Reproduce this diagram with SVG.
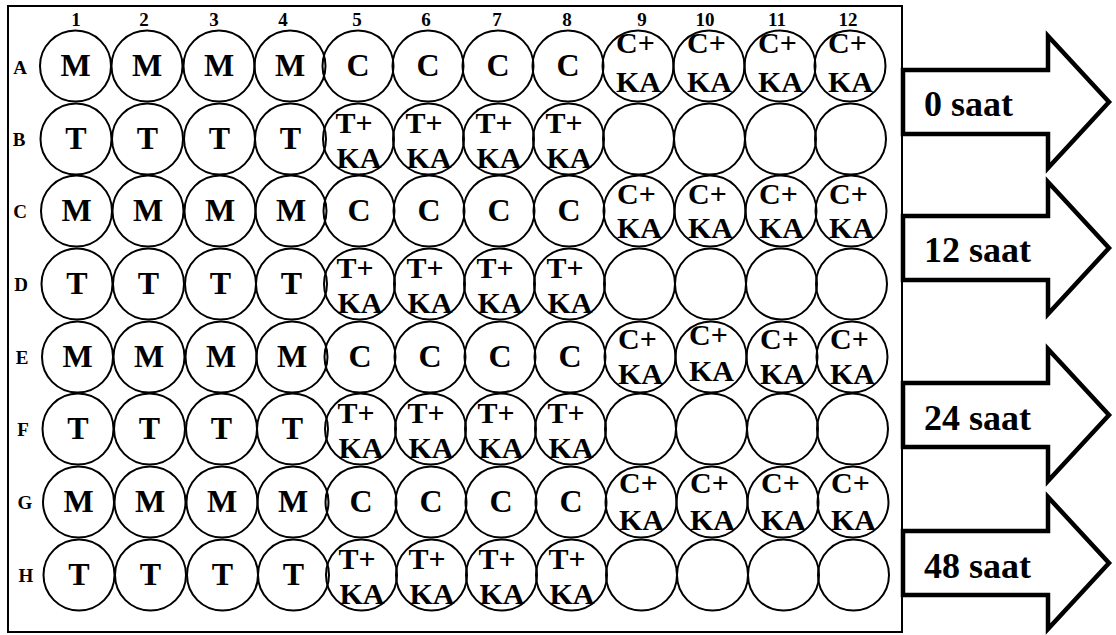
<svg xmlns="http://www.w3.org/2000/svg" width="1116" height="635" viewBox="0 0 1116 635" font-family="Liberation Serif, Times New Roman, DejaVu Serif, serif" font-weight="bold">
<style>
text{font-family:'Liberation Serif','Times New Roman','DejaVu Serif',serif;font-weight:700;fill:#000}
.w circle{fill:none;stroke:#000;stroke-width:2}
.b{font-size:32px;text-anchor:middle}
.s{font-size:30px}
.n{font-size:19px;text-anchor:middle}
.t{font-size:36px}
.arr{fill:#fff;stroke:#000;stroke-width:4.5;stroke-linejoin:miter;stroke-miterlimit:10}
</style>
<rect id="plate" x="8" y="6" width="894" height="626" fill="#fff" stroke="#000" stroke-width="2"/>
<g id="col-labels">
<text class="n" x="76" y="26">1</text><text class="n" x="144" y="26">2</text><text class="n" x="214" y="26">3</text><text class="n" x="283" y="26">4</text>
<text class="n" x="357" y="26">5</text><text class="n" x="426" y="26">6</text><text class="n" x="497" y="26">7</text><text class="n" x="567" y="26">8</text>
<text class="n" x="642" y="26">9</text><text class="n" x="705" y="26">10</text><text class="n" x="777" y="26">11</text><text class="n" x="848" y="26">12</text>
</g>
<g id="row-labels">
<text class="n" x="20" y="74">A</text><text class="n" x="19" y="146">B</text><text class="n" x="20" y="218">C</text><text class="n" x="21" y="291">D</text>
<text class="n" x="22" y="364">E</text><text class="n" x="23" y="436">F</text><text class="n" x="25" y="509">G</text><text class="n" x="26" y="582">H</text>
</g>
<g id="wells" class="w">
<g id="A1" transform="translate(75.5,66)"><circle r="35.5"/><text class="b" y="10">M</text></g>
<g id="A2" transform="translate(147,66)"><circle r="35.5"/><text class="b" y="10">M</text></g>
<g id="A3" transform="translate(219,66)"><circle r="35.5"/><text class="b" y="10">M</text></g>
<g id="A4" transform="translate(290,66)"><circle r="35.5"/><text class="b" y="10">M</text></g>
<g id="A5" transform="translate(358,66)"><circle r="35.5"/><text class="b" y="10">C</text></g>
<g id="A6" transform="translate(428,66)"><circle r="35.5"/><text class="b" y="10">C</text></g>
<g id="A7" transform="translate(498,66)"><circle r="35.5"/><text class="b" y="10">C</text></g>
<g id="A8" transform="translate(568,66)"><circle r="35.5"/><text class="b" y="10">C</text></g>
<g id="A9" transform="translate(638,66)"><circle r="35.5"/><text class="s" x="-22" y="-13">C+</text><text class="s" x="-22" y="26">KA</text></g>
<g id="A10" transform="translate(709,66)"><circle r="35.5"/><text class="s" x="-22" y="-13">C+</text><text class="s" x="-22" y="26">KA</text></g>
<g id="A11" transform="translate(780,66)"><circle r="35.5"/><text class="s" x="-22" y="-13">C+</text><text class="s" x="-22" y="26">KA</text></g>
<g id="A12" transform="translate(850,66)"><circle r="35.5"/><text class="s" x="-22" y="-13">C+</text><text class="s" x="-22" y="26">KA</text></g>

<g id="B1" transform="translate(76,139)"><circle r="35.5"/><text class="b" y="10">T</text></g>
<g id="B2" transform="translate(147.5,139)"><circle r="35.5"/><text class="b" y="10">T</text></g>
<g id="B3" transform="translate(219.5,139)"><circle r="35.5"/><text class="b" y="10">T</text></g>
<g id="B4" transform="translate(290.5,139)"><circle r="35.5"/><text class="b" y="10">T</text></g>
<g id="B5" transform="translate(358.5,139)"><circle r="35.5"/><text class="s" x="-23" y="-6">T+</text><text class="s" x="-22" y="29">KA</text></g>
<g id="B6" transform="translate(428.5,139)"><circle r="35.5"/><text class="s" x="-23" y="-6">T+</text><text class="s" x="-22" y="29">KA</text></g>
<g id="B7" transform="translate(498.5,139)"><circle r="35.5"/><text class="s" x="-23" y="-6">T+</text><text class="s" x="-22" y="29">KA</text></g>
<g id="B8" transform="translate(568.5,139)"><circle r="35.5"/><text class="s" x="-23" y="-6">T+</text><text class="s" x="-22" y="29">KA</text></g>
<g id="B9" transform="translate(638.5,139)"><circle r="35.5"/></g>
<g id="B10" transform="translate(709.5,139)"><circle r="35.5"/></g>
<g id="B11" transform="translate(780.5,139)"><circle r="35.5"/></g>
<g id="B12" transform="translate(850.5,139)"><circle r="35.5"/></g>

<g id="C1" transform="translate(76.5,211)"><circle r="35.5"/><text class="b" y="10">M</text></g>
<g id="C2" transform="translate(148,211)"><circle r="35.5"/><text class="b" y="10">M</text></g>
<g id="C3" transform="translate(220,211)"><circle r="35.5"/><text class="b" y="10">M</text></g>
<g id="C4" transform="translate(291,211)"><circle r="35.5"/><text class="b" y="10">M</text></g>
<g id="C5" transform="translate(359,211)"><circle r="35.5"/><text class="b" y="10">C</text></g>
<g id="C6" transform="translate(429,211)"><circle r="35.5"/><text class="b" y="10">C</text></g>
<g id="C7" transform="translate(499,211)"><circle r="35.5"/><text class="b" y="10">C</text></g>
<g id="C8" transform="translate(569,211)"><circle r="35.5"/><text class="b" y="10">C</text></g>
<g id="C9" transform="translate(639,211)"><circle r="35.5"/><text class="s" x="-22" y="-7">C+</text><text class="s" x="-22" y="27">KA</text></g>
<g id="C10" transform="translate(710,211)"><circle r="35.5"/><text class="s" x="-22" y="-7">C+</text><text class="s" x="-22" y="27">KA</text></g>
<g id="C11" transform="translate(781,211)"><circle r="35.5"/><text class="s" x="-22" y="-7">C+</text><text class="s" x="-22" y="27">KA</text></g>
<g id="C12" transform="translate(851,211)"><circle r="35.5"/><text class="s" x="-22" y="-7">C+</text><text class="s" x="-22" y="27">KA</text></g>

<g id="D1" transform="translate(77,284)"><circle r="35.5"/><text class="b" y="10">T</text></g>
<g id="D2" transform="translate(148.5,284)"><circle r="35.5"/><text class="b" y="10">T</text></g>
<g id="D3" transform="translate(220.5,284)"><circle r="35.5"/><text class="b" y="10">T</text></g>
<g id="D4" transform="translate(291.5,284)"><circle r="35.5"/><text class="b" y="10">T</text></g>
<g id="D5" transform="translate(359.5,284)"><circle r="35.5"/><text class="s" x="-23" y="-6">T+</text><text class="s" x="-22" y="29">KA</text></g>
<g id="D6" transform="translate(429.5,284)"><circle r="35.5"/><text class="s" x="-23" y="-6">T+</text><text class="s" x="-22" y="29">KA</text></g>
<g id="D7" transform="translate(499.5,284)"><circle r="35.5"/><text class="s" x="-23" y="-6">T+</text><text class="s" x="-22" y="29">KA</text></g>
<g id="D8" transform="translate(569.5,284)"><circle r="35.5"/><text class="s" x="-23" y="-6">T+</text><text class="s" x="-22" y="29">KA</text></g>
<g id="D9" transform="translate(639.5,284)"><circle r="35.5"/></g>
<g id="D10" transform="translate(710.5,284)"><circle r="35.5"/></g>
<g id="D11" transform="translate(781.5,284)"><circle r="35.5"/></g>
<g id="D12" transform="translate(851.5,284)"><circle r="35.5"/></g>

<g id="E1" transform="translate(77.5,357)"><circle r="35.5"/><text class="b" y="10">M</text></g>
<g id="E2" transform="translate(149,357)"><circle r="35.5"/><text class="b" y="10">M</text></g>
<g id="E3" transform="translate(221,357)"><circle r="35.5"/><text class="b" y="10">M</text></g>
<g id="E4" transform="translate(292,357)"><circle r="35.5"/><text class="b" y="10">M</text></g>
<g id="E5" transform="translate(360,357)"><circle r="35.5"/><text class="b" y="10">C</text></g>
<g id="E6" transform="translate(430,357)"><circle r="35.5"/><text class="b" y="10">C</text></g>
<g id="E7" transform="translate(500,357)"><circle r="35.5"/><text class="b" y="10">C</text></g>
<g id="E8" transform="translate(570,357)"><circle r="35.5"/><text class="b" y="10">C</text></g>
<g id="E9" transform="translate(640,357)"><circle r="35.5"/><text class="s" x="-22" y="-8">C+</text><text class="s" x="-22" y="27">KA</text></g>
<g id="E10" transform="translate(711,357)"><circle r="35.5"/><text class="s" x="-22" y="-12">C+</text><text class="s" x="-22" y="24">KA</text></g>
<g id="E11" transform="translate(782,357)"><circle r="35.5"/><text class="s" x="-22" y="-8">C+</text><text class="s" x="-22" y="27">KA</text></g>
<g id="E12" transform="translate(852,357)"><circle r="35.5"/><text class="s" x="-22" y="-8">C+</text><text class="s" x="-22" y="27">KA</text></g>

<g id="F1" transform="translate(78,429)"><circle r="35.5"/><text class="b" y="10">T</text></g>
<g id="F2" transform="translate(149.5,429)"><circle r="35.5"/><text class="b" y="10">T</text></g>
<g id="F3" transform="translate(221.5,429)"><circle r="35.5"/><text class="b" y="10">T</text></g>
<g id="F4" transform="translate(292.5,429)"><circle r="35.5"/><text class="b" y="10">T</text></g>
<g id="F5" transform="translate(360.5,429)"><circle r="35.5"/><text class="s" x="-23" y="-6">T+</text><text class="s" x="-22" y="29">KA</text></g>
<g id="F6" transform="translate(430.5,429)"><circle r="35.5"/><text class="s" x="-23" y="-6">T+</text><text class="s" x="-22" y="29">KA</text></g>
<g id="F7" transform="translate(500.5,429)"><circle r="35.5"/><text class="s" x="-23" y="-6">T+</text><text class="s" x="-22" y="29">KA</text></g>
<g id="F8" transform="translate(570.5,429)"><circle r="35.5"/><text class="s" x="-23" y="-6">T+</text><text class="s" x="-22" y="29">KA</text></g>
<g id="F9" transform="translate(640.5,429)"><circle r="35.5"/></g>
<g id="F10" transform="translate(711.5,429)"><circle r="35.5"/></g>
<g id="F11" transform="translate(782.5,429)"><circle r="35.5"/></g>
<g id="F12" transform="translate(852.5,429)"><circle r="35.5"/></g>

<g id="G1" transform="translate(78.5,502)"><circle r="35.5"/><text class="b" y="10">M</text></g>
<g id="G2" transform="translate(150,502)"><circle r="35.5"/><text class="b" y="10">M</text></g>
<g id="G3" transform="translate(222,502)"><circle r="35.5"/><text class="b" y="10">M</text></g>
<g id="G4" transform="translate(293,502)"><circle r="35.5"/><text class="b" y="10">M</text></g>
<g id="G5" transform="translate(361,502)"><circle r="35.5"/><text class="b" y="10">C</text></g>
<g id="G6" transform="translate(431,502)"><circle r="35.5"/><text class="b" y="10">C</text></g>
<g id="G7" transform="translate(501,502)"><circle r="35.5"/><text class="b" y="10">C</text></g>
<g id="G8" transform="translate(571,502)"><circle r="35.5"/><text class="b" y="10">C</text></g>
<g id="G9" transform="translate(641,502)"><circle r="35.5"/><text class="s" x="-22" y="-9">C+</text><text class="s" x="-22" y="28">KA</text></g>
<g id="G10" transform="translate(712,502)"><circle r="35.5"/><text class="s" x="-22" y="-9">C+</text><text class="s" x="-22" y="28">KA</text></g>
<g id="G11" transform="translate(783,502)"><circle r="35.5"/><text class="s" x="-22" y="-9">C+</text><text class="s" x="-22" y="28">KA</text></g>
<g id="G12" transform="translate(853,502)"><circle r="35.5"/><text class="s" x="-22" y="-9">C+</text><text class="s" x="-22" y="28">KA</text></g>

<g id="H1" transform="translate(79,575)"><circle r="35.5"/><text class="b" y="10">T</text></g>
<g id="H2" transform="translate(150.5,575)"><circle r="35.5"/><text class="b" y="10">T</text></g>
<g id="H3" transform="translate(222.5,575)"><circle r="35.5"/><text class="b" y="10">T</text></g>
<g id="H4" transform="translate(293.5,575)"><circle r="35.5"/><text class="b" y="10">T</text></g>
<g id="H5" transform="translate(361.5,575)"><circle r="35.5"/><text class="s" x="-23" y="-6">T+</text><text class="s" x="-22" y="29">KA</text></g>
<g id="H6" transform="translate(431.5,575)"><circle r="35.5"/><text class="s" x="-23" y="-6">T+</text><text class="s" x="-22" y="29">KA</text></g>
<g id="H7" transform="translate(501.5,575)"><circle r="35.5"/><text class="s" x="-23" y="-6">T+</text><text class="s" x="-22" y="29">KA</text></g>
<g id="H8" transform="translate(571.5,575)"><circle r="35.5"/><text class="s" x="-23" y="-6">T+</text><text class="s" x="-22" y="29">KA</text></g>
<g id="H9" transform="translate(641.5,575)"><circle r="35.5"/></g>
<g id="H10" transform="translate(712.5,575)"><circle r="35.5"/></g>
<g id="H11" transform="translate(783.5,575)"><circle r="35.5"/></g>
<g id="H12" transform="translate(853.5,575)"><circle r="35.5"/></g>
</g>
<g id="arrows">
<g id="arrow-0"><polygon class="arr" points="903,70 1048,70 1048,36 1109,102 1048,168 1048,134 903,134"/><text class="t" x="924" y="116">0 saat</text></g>
<g id="arrow-12"><polygon class="arr" points="903,216 1048,216 1048,182 1109,248 1048,314 1048,280 903,280"/><text class="t" x="924" y="262">12 saat</text></g>
<g id="arrow-24"><polygon class="arr" points="903,383 1048,383 1048,349 1109,415 1048,481 1048,447 903,447"/><text class="t" x="924" y="430">24 saat</text></g>
<g id="arrow-48"><polygon class="arr" points="903,531 1048,531 1048,497 1109,563 1048,629 1048,595 903,595"/><text class="t" x="924" y="578">48 saat</text></g>
</g>
</svg>
